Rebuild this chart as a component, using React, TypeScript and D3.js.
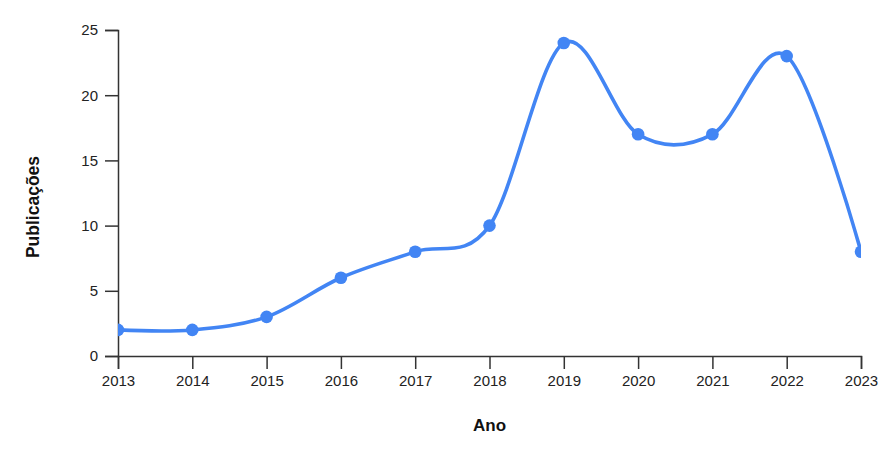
import React, { useEffect, useRef } from 'react';
import * as d3 from 'd3';

const years = [2013, 2014, 2015, 2016, 2017, 2018, 2019, 2020, 2021, 2022, 2023];
const publications = [2, 2, 3, 6, 8, 10, 24, 17, 17, 23, 8];
const yTicks = [0, 5, 10, 15, 20, 25];

const App: React.FC = () => {
  const ref = useRef<SVGSVGElement>(null);

  useEffect(() => {
    if (!ref.current) return;
    const root = d3.select(ref.current);
    root.selectAll('*').remove();

    const W = 886, H = 457;
    const margin = { top: 30, right: 25, bottom: 101, left: 118 };
    const width = W - margin.left - margin.right;
    const height = H - margin.top - margin.bottom;

    const svg = root.append('g').attr('transform', `translate(${margin.left},${margin.top})`);

    const x = d3.scaleLinear().domain([2013, 2023]).range([0, width]);
    const y = d3.scaleLinear().domain([0, 25]).range([height, 0]);

    // axes
    const xAxis = svg.append('g')
      .attr('transform', `translate(0,${height})`)
      .call(d3.axisBottom(x).tickValues(years).tickFormat(d3.format('d')).tickSize(13).tickPadding(6));
    const yAxis = svg.append('g')
      .call(d3.axisLeft(y).tickValues(yTicks).tickSize(13).tickPadding(7));

    [xAxis, yAxis].forEach(a => {
      a.selectAll('text')
        .attr('font-family', '"Liberation Sans", Arial, sans-serif')
        .attr('font-size', '15px')
        .attr('fill', '#222');
      a.selectAll('path, line').attr('stroke', '#333').attr('stroke-width', 1.5);
    });

    // clip to plot area
    svg.append('clipPath').attr('id', 'plot-clip')
      .append('rect').attr('x', 0).attr('y', -20).attr('width', width).attr('height', height + 20);

    const plot = svg.append('g').attr('clip-path', 'url(#plot-clip)');
    const data = years.map((yr, i) => ({ yr, v: publications[i] }));

    const line = d3.line<{ yr: number; v: number }>()
      .x(d => x(d.yr))
      .y(d => y(d.v))
      .curve(d3.curveCardinal.tension(0));

    plot.append('path')
      .datum(data)
      .attr('fill', 'none')
      .attr('stroke', '#4285F4')
      .attr('stroke-width', 3.6)
      .attr('d', line);

    plot.selectAll('circle')
      .data(data)
      .join('circle')
      .attr('cx', d => x(d.yr))
      .attr('cy', d => y(d.v))
      .attr('r', 6.3)
      .attr('fill', '#4285F4');

    // axis titles
    svg.append('text')
      .attr('x', width / 2)
      .attr('y', height + 75)
      .attr('text-anchor', 'middle')
      .attr('font-family', '"Liberation Sans", Arial, sans-serif')
      .attr('font-size', '17px')
      .attr('font-weight', 'bold')
      .attr('fill', '#111')
      .text('Ano');

    svg.append('text')
      .attr('transform', `translate(${39 - margin.left},${207 - margin.top}) rotate(-90)`)
      .attr('text-anchor', 'middle')
      .attr('font-family', '"Liberation Sans", Arial, sans-serif')
      .attr('font-size', '17.5px')
      .attr('font-weight', 'bold')
      .attr('fill', '#111')
      .text('Publicações');
  }, []);

  return (
    <svg ref={ref} width={886} height={457}
      style={{ position: 'absolute', left: 0, top: 0, background: '#fff' }} />
  );
};

export default App;
